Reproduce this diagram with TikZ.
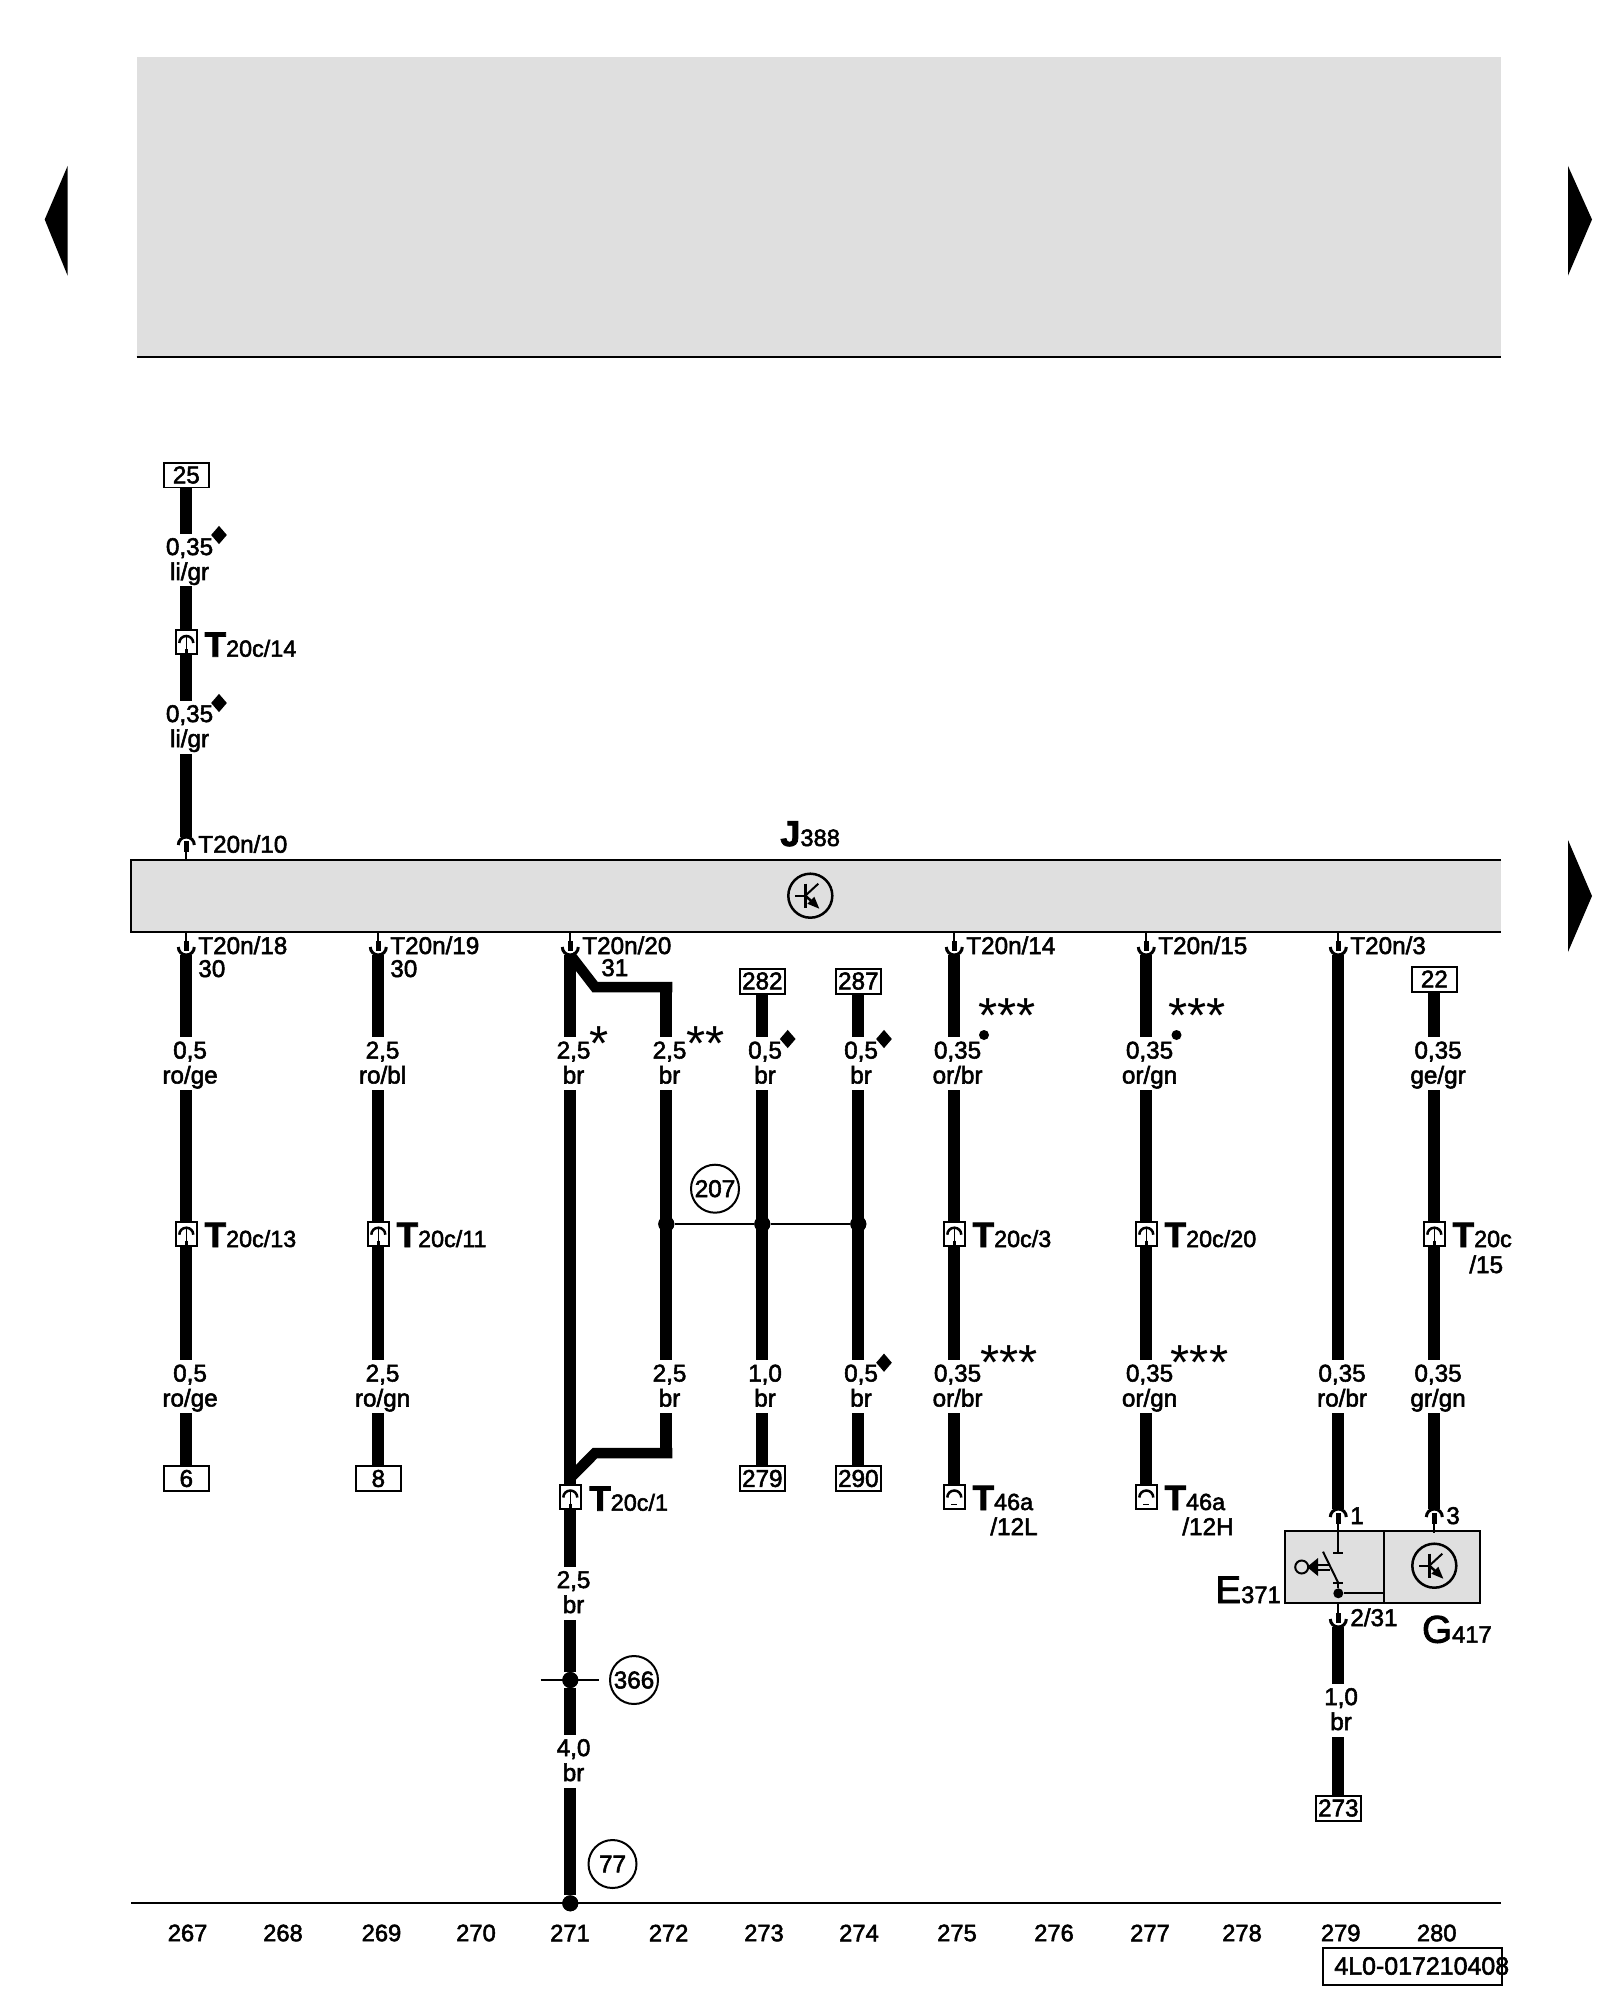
\documentclass[tikz,border=0pt]{standalone}
\usepackage{fontspec}
\usepackage{xcolor}
\setmainfont{Liberation Sans}
\newfontfamily\lblfam[FakeBold=2.2]{Liberation Sans}
\usetikzlibrary{shapes.geometric}
\definecolor{boxgray}{HTML}{DFDFDF}
\newcommand{\lblfont}{\fontsize{13.8}{14.2}\selectfont\lblfam}
\newcommand{\bigT}{{\fontsize{20}{20}\selectfont\bfseries T}}
\tikzset{
  wire/.style={line width=0.24cm},
  branchwire/.style={line width=0.21cm, line join=miter},
  thinline/.style={line width=0.04cm},
  wirelabel/.style={fill=white, align=center, minimum height=1.06cm,
    text height=0.8cm, text depth=0cm,
    execute at begin node={\hspace*{0.17em}}},
  pinlabel/.style={anchor=base west},
  plugname/.style={anchor=base west, font=\fontsize{13.3}{14}\selectfont\lblfam},
  terminal/.style={draw, fill=white, line width=0.04cm, minimum width=0.9cm, minimum height=0.5cm},
  plugbox/.style={draw, fill=white, line width=0.04cm, minimum width=0.42cm, minimum height=0.48cm},
  refcircle/.style={draw, circle, line width=0.04cm, minimum size=0.96cm},
  junction/.style={circle, fill=black, minimum size=0.32cm},
  tinydot/.style={circle, fill=black, minimum size=0.2cm},
  dia/.style={diamond, fill=black, minimum width=0.32cm, minimum height=0.37cm},
  stars/.style={anchor=base, font=\fontsize{28}{28}\selectfont\mdseries},
  collabel/.style={font=\fontsize{13.5}{14}\selectfont\lblfam},
  bigname/.style={anchor=base west, font=\fontsize{13.5}{14}\selectfont\lblfam},
  pinup/.pic={
    \draw [line width=0.06cm] (-8,-8) arc (180:0:8);
    \draw [line width=0.1cm] (0,-4) -- (0,-15);
    \draw [thinline] (0,-15) -- (0,-24);
  },
  pindown/.pic={
    \draw [line width=0.06cm] (-8,8) arc (180:360:8);
    \draw [line width=0.1cm] (0,4) -- (0,14);
    \draw [thinline] (0,14) -- (0,24);
  },
  plugarch/.pic={
    \draw [line width=0.05cm] (-7,-1) arc (180:0:7);
    \draw [line width=0.03cm] (0,5) -- (0,-11);
    \draw [line width=0.06cm] (0,-7) -- (0,-11);
  },
  domearch/.pic={
    \draw [line width=0.05cm] (-7,-1) arc (180:0:7);
    \draw [line width=0.03cm] (-3,-8) -- (3,-8);
  },
  transistor/.pic={
    \draw [line width=0.05cm] (0,0) circle (22);
    \draw [thinline] (-15,0) -- (-5,0);
    \draw [line width=0.05cm] (-5,12) -- (-5,-12);
    \draw [thinline] (-5,0) -- (8,12);
    \draw [line width=0.05cm] (-5,0) -- (4,-8);
    \fill [black] (9,-13) -- (-3,-8) -- (4,-1);
  },
}
\begin{document}
\begin{tikzpicture}[x=0.02cm,y=0.02cm]
\tikzstyle{every node}+=[inner sep=0pt, font=\lblfont]
\useasboundingbox (0,0) rectangle (1600,-2000);
% header block and page arrows
\fill [boxgray] (136.5,-57.4) rectangle (1501,-357);
\draw [thinline] (136.5,-357) -- (1501,-357);
\fill [black] (67.6,-166) -- (44.7,-219.5) -- (67.6,-275.6);
\fill [black] (1568,-166) -- (1592,-219.5) -- (1568,-275.6);
\fill [black] (1568,-840) -- (1592,-896) -- (1568,-952);
% control unit
\node (J388) [fill=boxgray, minimum width=27.4cm, minimum height=1.41cm] at (816,-896) {};
\draw [thinline] (J388.north east) -- (J388.north west) -- (J388.south west) -- (J388.south east);
\pic at (810.3,-895.7) {transistor};
\node (lJ388) [bigname] at (780,-846) {{\fontsize{20.5}{20}\selectfont\bfseries J}388};
% switch and sender
\node (E371) [draw, fill=boxgray, thinline, minimum width=1.986cm, minimum height=1.452cm] at (1334.65,-1567) {};
\node (G417) [draw, fill=boxgray, thinline, minimum width=1.908cm, minimum height=1.452cm] at (1432,-1567) {};
\pic at (1434.3,-1565.7) {transistor};
\node (lE371) [bigname] at (1215,-1603) {{\fontsize{22}{22}\selectfont E}371};
\node (lG417) [bigname] at (1421.7,-1642.7) {{\fontsize{22}{22}\selectfont G}417};
\coordinate (swtop) at (1338.3,-1553);
\coordinate (swlow) at (1338.3,-1583);
\draw [thinline] (1338.3,-1530.7) -- (swtop);
\draw [thinline] (1333,-1553) -- (1343,-1553);
\draw [thinline] (1333,-1583) -- (1343,-1583);
\draw [thinline] (1323,-1551.7) -- (swlow);
\node (dsw) [tinydot] at (1338.3,-1593.3) {};
\draw [thinline] (swlow) -- (dsw);
\draw [thinline] (dsw) -- (dsw -| G417.west);
\draw [thinline] (1301.7,-1567) circle (6.5);
\fill [black] (1307,-1567) -- (1318,-1558) -- (1318,-1576);
\draw [thinline] (1318,-1565) -- (1330,-1565);
\draw [thinline] (1318,-1570) -- (1330,-1570);
% terminals
\node (n25) [terminal] at (186.3,-475) {25};
\node (n282) [terminal] at (762.3,-981) {282};
\node (n287) [terminal] at (858.3,-981) {287};
\node (n22) [terminal] at (1434.3,-979) {22};
\node (n6) [terminal] at (186.3,-1478.5) {6};
\node (n8) [terminal] at (378.3,-1478.5) {8};
\node (n279) [terminal] at (762.3,-1478.5) {279};
\node (n290) [terminal] at (858.3,-1478.5) {290};
\node (n273) [terminal] at (1338.3,-1808) {273};
% pins on the units
\coordinate (p10) at (186.3,-837);
\coordinate (p18) at (186.3,-955);
\coordinate (p19) at (378.3,-955);
\coordinate (p20) at (570.3,-955);
\coordinate (p14) at (954.3,-955);
\coordinate (p15) at (1146.3,-955);
\coordinate (p3) at (1338.3,-955);
\coordinate (pe1) at (1338.3,-1509);
\coordinate (pg3) at (1434.3,-1509);
\coordinate (pe2) at (1338.3,-1627);
% plugs in the wires
\node (tc14) [plugbox] at (186.3,-642) {};
\node (tc13) [plugbox] at (186.3,-1233.7) {};
\node (tc11) [plugbox] at (378.3,-1233.7) {};
\node (tc3) [plugbox] at (954.3,-1233.7) {};
\node (tc20) [plugbox] at (1146.3,-1233.7) {};
\node (tc15) [plugbox] at (1434.3,-1233.7) {};
\node (tc1) [plugbox] at (570.3,-1496.5) {};
\node (ta12l) [plugbox] at (954.3,-1496.5) {};
\node (ta12h) [plugbox] at (1146.3,-1496.5) {};
% splices
\node (s207a) [junction] at (666.3,-1224) {};
\node (s207b) [junction] at (762.3,-1224) {};
\node (s207c) [junction] at (858.3,-1224) {};
\node (s366) [junction] at (570.3,-1680) {};
\node (s77) [junction] at (570.3,-1903.3) {};
\coordinate (s366l) at (540.7,-1680);
\coordinate (s366r) at (599,-1680);
\coordinate (brtop) at (666.3,-981.7);
\coordinate (brlow) at (666.3,-1458.3);
% wires
\draw [branchwire] (p20) -- (595,-987) -- (672.3,-987);
\draw [branchwire] (672.3,-1453) -- (595,-1453) -- (570.3,-1478);
\draw [wire] (n25) -- (tc14) -- (p10);
\draw [wire] (p18) -- (tc13) -- (n6);
\draw [wire] (p19) -- (tc11) -- (n8);
\draw [wire] (p20) -- (tc1) -- (s366) -- (s77);
\draw [wire] (brtop) -- (brlow);
\draw [wire] (n282) -- (n279);
\draw [wire] (n287) -- (n290);
\draw [wire] (p14) -- (tc3) -- (ta12l);
\draw [wire] (p15) -- (tc20) -- (ta12h);
\draw [wire] (p3) -- (pe1);
\draw [wire] (n22) -- (tc15) -- (pg3);
\draw [wire] (pe2) -- (n273);
\draw [thinline] (s207a) -- (s207b) -- (s207c);
\draw [thinline] (s366l) -- (s366r);
\node (j207a) [junction] at (s207a) {};
\node (j207b) [junction] at (s207b) {};
\node (j207c) [junction] at (s207c) {};
\node (j366) [junction] at (s366) {};
\node (j77) [junction] at (s77) {};
% pin symbols
\pic at (p10) {pinup};
\pic at (p18) {pindown};
\pic at (p19) {pindown};
\pic at (p20) {pindown};
\pic at (p14) {pindown};
\pic at (p15) {pindown};
\pic at (p3) {pindown};
\pic at (pe1) {pinup};
\pic at (pg3) {pinup};
\pic at (pe2) {pindown};
\pic at (tc14) {plugarch};
\pic at (tc13) {plugarch};
\pic at (tc11) {plugarch};
\pic at (tc3) {plugarch};
\pic at (tc20) {plugarch};
\pic at (tc15) {plugarch};
\pic at (tc1) {plugarch};
\pic at (ta12l) {domearch};
\pic at (ta12h) {domearch};
% wire labels
\node (w1) [wirelabel] at (187.5,-560) {0,35\\li/gr};
\node (w2) [wirelabel] at (187.5,-727) {0,35\\li/gr};
\node (w3) [wirelabel] at (188,-1063.5) {0,5\\ro/ge};
\node (w4) [wirelabel] at (188,-1386.5) {0,5\\ro/ge};
\node (w5) [wirelabel] at (380.5,-1063.5) {2,5\\ro/bl};
\node (w6) [wirelabel] at (380.5,-1386.5) {2,5\\ro/gn};
\node (w7) [wirelabel] at (571.5,-1063.5) {2,5\\br};
\node (w8) [wirelabel] at (571.5,-1593) {2,5\\br};
\node (w9) [wirelabel] at (571.5,-1761) {4,0\\br};
\node (w10) [wirelabel] at (667.5,-1063.5) {2,5\\br};
\node (w11) [wirelabel] at (667.5,-1386.5) {2,5\\br};
\node (w12) [wirelabel] at (763,-1063.5) {0,5\\br};
\node (w13) [wirelabel] at (763,-1386.5) {1,0\\br};
\node (w14) [wirelabel] at (859,-1063.5) {0,5\\br};
\node (w15) [wirelabel] at (859,-1386.5) {0,5\\br};
\node (w16) [wirelabel] at (955.5,-1063.5) {0,35\\or/br};
\node (w17) [wirelabel] at (955.5,-1386.5) {0,35\\or/br};
\node (w18) [wirelabel] at (1147.5,-1063.5) {0,35\\or/gn};
\node (w19) [wirelabel] at (1147.5,-1386.5) {0,35\\or/gn};
\node (w20) [wirelabel] at (1340,-1386.5) {0,35\\ro/br};
\node (w21) [wirelabel] at (1436,-1063.5) {0,35\\ge/gr};
\node (w22) [wirelabel] at (1436,-1386.5) {0,35\\gr/gn};
\node (w23) [wirelabel] at (1339,-1710) {1,0\\br};
% pin and plug names
\node (l10) [pinlabel] at (198,-852.7) {T20n/10};
\node (l18) [pinlabel] at (198,-954) {T20n/18};
\node (l19) [pinlabel] at (390,-954) {T20n/19};
\node (l20) [pinlabel] at (582,-954) {T20n/20};
\node (l14) [pinlabel] at (966,-954) {T20n/14};
\node (l15) [pinlabel] at (1158,-954) {T20n/15};
\node (l3) [pinlabel] at (1350,-954) {T20n/3};
\node (l30a) [pinlabel] at (198,-977) {30};
\node (l30b) [pinlabel] at (390,-977) {30};
\node (l31) [pinlabel] at (601,-976) {31};
\node (le1) [pinlabel] at (1350,-1524) {1};
\node (lg3) [pinlabel] at (1446,-1524) {3};
\node (le2) [pinlabel] at (1350,-1626) {2/31};
\node (ltc14) [plugname] at (204.3,-656.7) {\bigT 20c/14};
\node (ltc13) [plugname] at (204.3,-1247) {\bigT 20c/13};
\node (ltc11) [plugname] at (396.3,-1247) {\bigT 20c/11};
\node (ltc3) [plugname] at (972.3,-1247) {\bigT 20c/3};
\node (ltc20) [plugname] at (1164.3,-1247) {\bigT 20c/20};
\node (ltc15) [plugname] at (1452.3,-1247) {\bigT 20c};
\node (ltc15b) [pinlabel] at (1469,-1273) {/15};
\node (ltc1) [plugname] at (589,-1510.7) {\bigT 20c/1};
\node (lta12l) [plugname] at (972.3,-1510) {\bigT 46a};
\node (lta12lb) [pinlabel] at (990,-1535) {/12L};
\node (lta12h) [plugname] at (1164.3,-1510) {\bigT 46a};
\node (lta12hb) [pinlabel] at (1182,-1535) {/12H};
% reference circles
\node (c207) [refcircle] at (715,-1188.7) {207};
\node (c366) [refcircle] at (634,-1680) {366};
\node (c77) [refcircle] at (612.5,-1864) {77};
% marks
\node (m1) [dia] at (219,-535) {};
\node (m2) [dia] at (219,-703) {};
\node (m3) [dia] at (787.7,-1039) {};
\node (m4) [dia] at (884,-1039) {};
\node (m5) [dia] at (884,-1362.7) {};
\node (m6) [tinydot] at (984,-1035) {};
\node (m7) [tinydot] at (1176.5,-1035) {};
\node (a1) [stars] at (599,-1060) {*};
\node (a2) [stars] at (705.7,-1060) {**};
\node (a3) [stars] at (1007,-1032) {***};
\node (a4) [stars] at (1009,-1379) {***};
\node (a5) [stars] at (1197,-1032) {***};
\node (a6) [stars] at (1199.5,-1379) {***};
% foot of the page
\draw [thinline] (131,-1903.3) -- (1501,-1903.3);
\node (k267) [collabel] at (187.6,-1933) {267};
\node (k268) [collabel] at (283,-1933) {268};
\node (k269) [collabel] at (381.5,-1933) {269};
\node (k270) [collabel] at (476,-1933) {270};
\node (k271) [collabel] at (570,-1933) {271};
\node (k272) [collabel] at (668.6,-1933) {272};
\node (k273) [collabel] at (764,-1933) {273};
\node (k274) [collabel] at (859,-1933) {274};
\node (k275) [collabel] at (957,-1933) {275};
\node (k276) [collabel] at (1054,-1933) {276};
\node (k277) [collabel] at (1150,-1933) {277};
\node (k278) [collabel] at (1242,-1933) {278};
\node (k279) [collabel] at (1340.7,-1933) {279};
\node (k280) [collabel] at (1436.7,-1933) {280};
\node (docbox) [draw, thinline, minimum width=3.58cm, minimum height=0.74cm] at (1412,-1966.5) {};
\node (doc) [anchor=west, font=\fontsize{14.2}{14}\selectfont\lblfam] at (1334,-1966) {4L0-017210408};
\end{tikzpicture}
\end{document}
